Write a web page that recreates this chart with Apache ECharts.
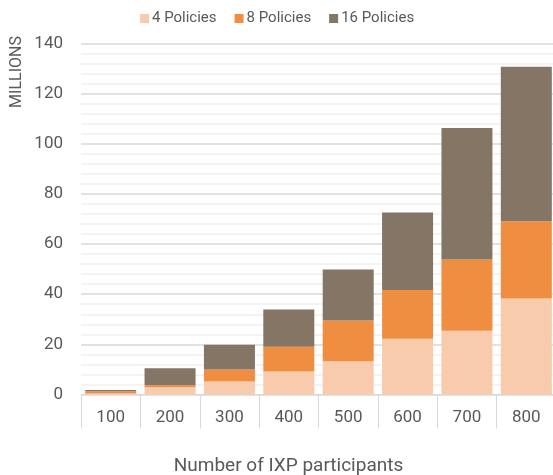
<!DOCTYPE html>
<html>
<head>
<meta charset="utf-8">
<script src="https://cdn.jsdelivr.net/npm/echarts@6/dist/echarts.min.js"></script>
<style>
  html, body { margin: 0; padding: 0; background: #fff; }
  #chart { width: 553px; height: 475px; }
</style>
</head>
<body>
<div id="chart"></div>
<script>
// Participants per IXP (category axis)
const participants = ['100', '200', '300', '400', '500', '600', '700', '800'];
// Millions of entries per policy count (stacked)
const policies4 = [0.4, 2.9, 5.2, 9.2, 13.3, 22.2, 25.4, 38.3];
const policies8 = [0.9, 0.8, 4.8, 9.8, 16.2, 19.5, 28.4, 30.8];
const policies16 = [0.5, 6.8, 9.8, 14.9, 20.4, 30.9, 52.5, 61.6];
const seriesNames = ['4 Policies', '8 Policies', '16 Policies'];
const colors = ['#F8CBAD', '#EF8E40', '#847565'];

const chart = echarts.init(document.getElementById('chart'));
const textColor = '#595959';
const font = 'Roboto, "Noto Sans", sans-serif';

function bar(name, data, color) {
  return {
    name: name,
    type: 'bar',
    stack: 'total',
    data: data,
    barWidth: 51,
    itemStyle: { color: color },
    emphasis: { disabled: true }
  };
}

chart.setOption({
  animation: false,
  textStyle: { fontFamily: font },
  color: colors,
  legend: {
    top: 6,
    left: 135,
    itemWidth: 9,
    itemHeight: 9,
    itemGap: 18,
    icon: 'rect',
    textStyle: { color: textColor, fontSize: 15, fontFamily: font, padding: [0, 0, 0, -2] },
    data: seriesNames
  },
  grid: {
    left: 81, right: -3, top: 43.5, bottom: 80.5,
    containLabel: false,
    outerBoundsMode: 'none'
  },
  graphic: [
    // vertical unit caption beside the value axis
    {
      type: 'text',
      x: 17,
      y: 72,
      rotation: Math.PI / 2,
      style: {
        text: 'MILLIONS',
        fill: textColor,
        font: '16px ' + font,
        align: 'center',
        verticalAlign: 'middle'
      }
    },
    // category axis title, centred under the chart
    {
      type: 'text',
      x: 288.5,
      y: 466,
      style: {
        text: 'Number of IXP participants',
        fill: textColor,
        font: '19px ' + font,
        align: 'center',
        verticalAlign: 'middle'
      }
    }
  ],
  xAxis: {
    type: 'category',
    data: participants,
    axisLine: { lineStyle: { color: '#d9d9d9' } },
    axisTick: { show: true, interval: 0, length: 34, lineStyle: { color: '#d9d9d9' } },
    axisLabel: { color: textColor, fontSize: 17, margin: 15, fontFamily: font }
  },
  yAxis: {
    type: 'value',
    min: 0,
    max: 140,
    interval: 20,
    axisLine: { show: false },
    axisTick: { show: false },
    axisLabel: { color: textColor, fontSize: 17, margin: 18, fontFamily: font },
    splitLine: { lineStyle: { color: '#d9d9d9', width: 1.5 } },
    minorTick: { show: false, splitNumber: 5 },
    minorSplitLine: { show: true, lineStyle: { color: '#f0f0f0', width: 1.5 } }
  },
  series: [
    bar(seriesNames[0], policies4, colors[0]),
    bar(seriesNames[1], policies8, colors[1]),
    bar(seriesNames[2], policies16, colors[2])
  ]
});
</script>
</body>
</html>
